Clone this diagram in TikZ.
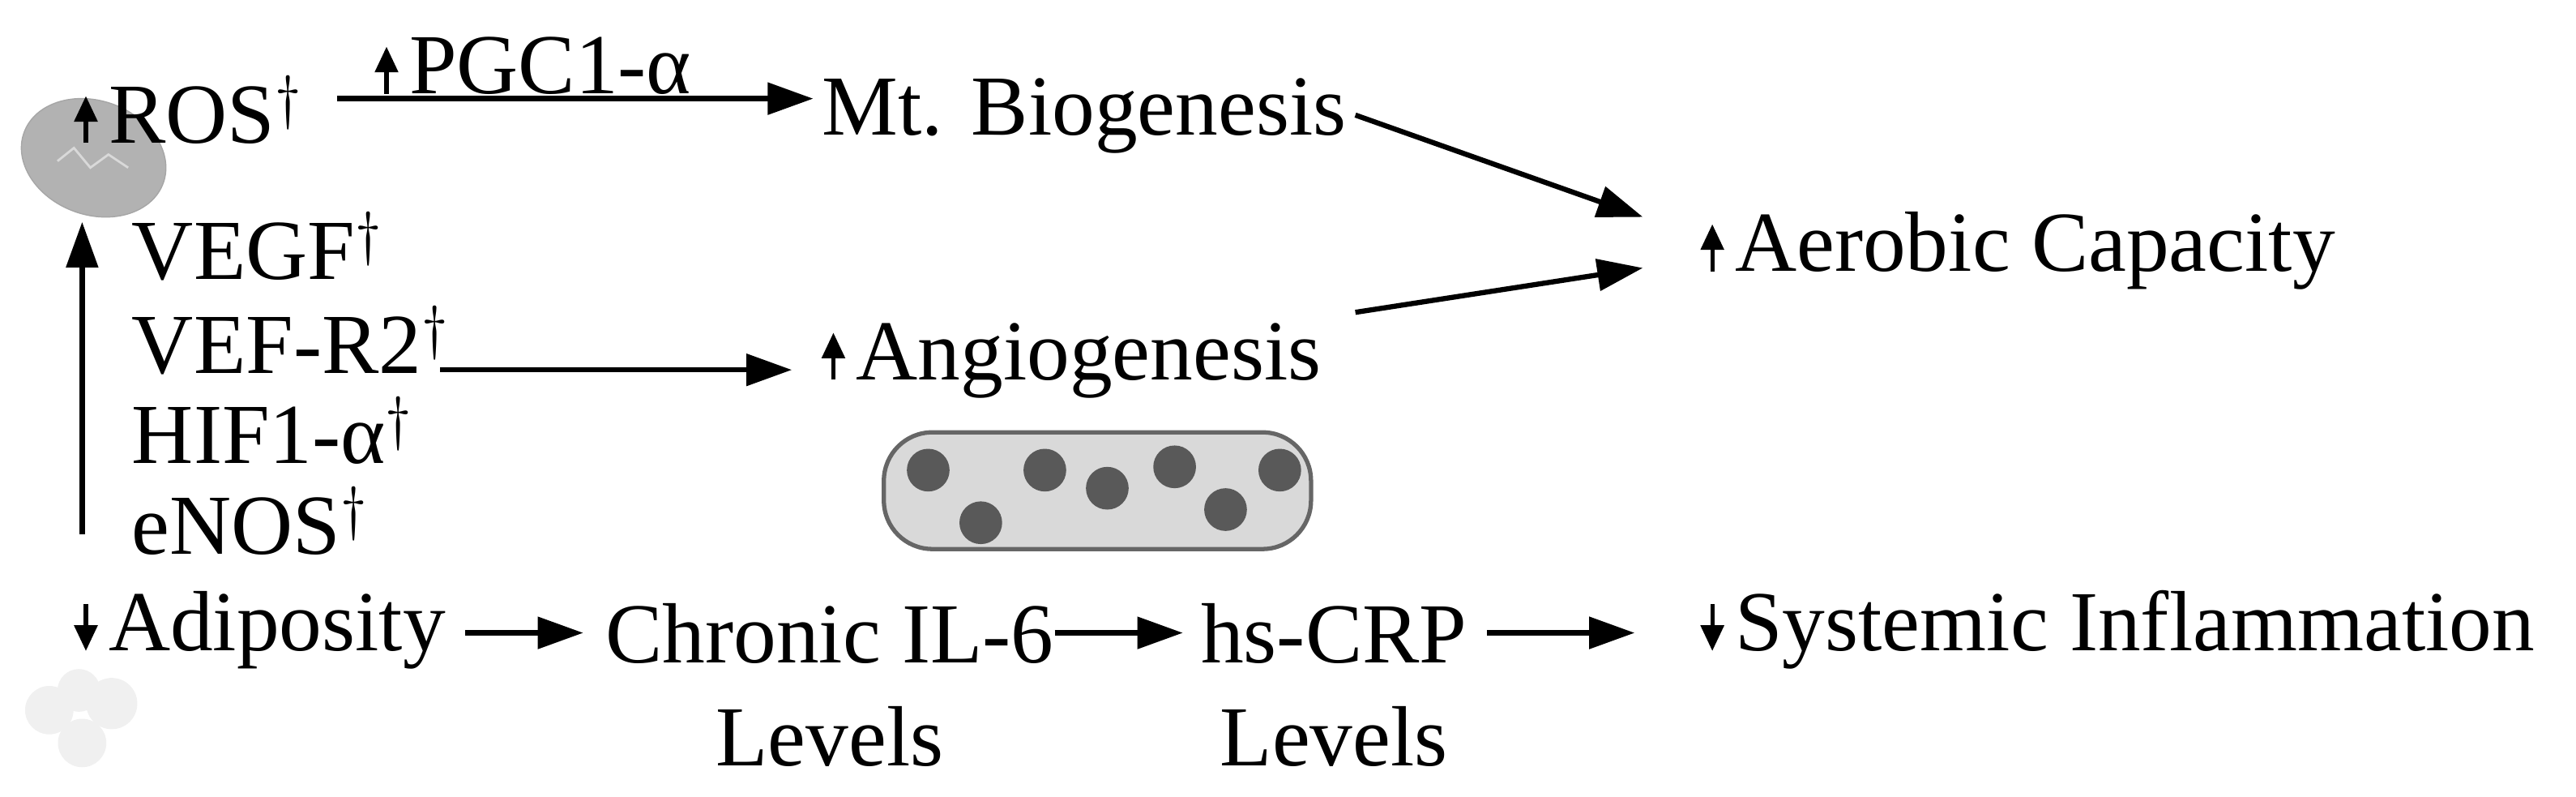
\documentclass[tikz,border=0pt]{standalone}
\usepackage{fontspec}
\setmainfont{Liberation Serif}
\usetikzlibrary{arrows.meta,shapes.geometric}
\newcommand{\uar}{\tikz[baseline=0pt,x=1cm,y=1cm]\draw[line width=1.5pt,-{Triangle[length=9pt,width=8pt]}] (0,0)--(0,0.58);\hspace{4pt}}
\newcommand{\dar}{\tikz[baseline=0pt,x=1cm,y=1cm]\draw[line width=1.5pt,-{Triangle[length=9pt,width=8pt]}] (0,0.58)--(0,0);\hspace{4pt}}
\begin{document}
\begin{tikzpicture}[x=0.02028cm,y=-0.02028cm,
  lbl/.style={inner sep=0pt,anchor=base west,font=\fontsize{30}{36}\selectfont},
  conn/.style={line width=1.8pt,-{Triangle[length=16pt,width=11pt]}}]
\useasboundingbox (0,0) rectangle (1568,484.7);
% icons
\node[draw=gray!70,fill=gray!60,ellipse,rotate=-20,minimum width=52pt,minimum height=40pt,inner sep=0pt] (mito) at (57,96) {};
\draw[white!70!gray,line width=0.8pt] (35,98) -- (45,90) -- (55,102) -- (66,94) -- (78,102);
\node[fill=gray!12,circle,minimum size=17pt,inner sep=0pt] (fat1) at (30,432) {};
\node[fill=gray!12,circle,minimum size=18pt,inner sep=0pt] (fat2) at (68,428) {};
\node[fill=gray!12,circle,minimum size=17pt,inner sep=0pt] (fat3) at (50,452) {};
\node[fill=gray!12,circle,minimum size=15pt,inner sep=0pt] (fat4) at (48,420) {};
\path[draw=gray!80!black,line width=1.5pt,fill=gray!30,rounded corners=17pt] (538,263) rectangle (798,334);
\foreach \i/\x/\y in {1/565/286,2/597/318,3/636/286,4/674/297,5/715/284,6/746/310,7/779/286}
  \node[circle,fill=gray!70!black,minimum size=15pt,inner sep=0pt] (d\i) at (\x,\y) {};
% texts
\node[lbl] (ros) at (45,87) {\uar ROS$^{\dagger}$};
\node[lbl] (pgc) at (228,57) {\uar PGC1-α};
\node[lbl] (mt) at (500,82) {Mt. Biogenesis};
\node[lbl] (aer) at (1035,165) {\uar Aerobic Capacity};
\node[lbl] (vegf) at (80,170) {VEGF$^{\dagger}$};
\node[lbl] (vef) at (80,227) {VEF-R2$^{\dagger}$};
\node[lbl] (hif) at (80,282) {HIF1-α$^{\dagger}$};
\node[lbl] (enos) at (80,337) {eNOS$^{\dagger}$};
\node[lbl] (ang) at (500,231) {\uar Angiogenesis};
\node[lbl] (adi) at (45,396) {\dar Adiposity};
\node[lbl,anchor=north,align=center] (il6) at (505,367) {Chronic IL-6\\Levels};
\node[lbl,anchor=north,align=center] (crp) at (812,367) {hs-CRP\\Levels};
\node[lbl] (sys) at (1035,396) {\dar Systemic Inflammation};
% connectors
\coordinate (vbot) at (50,325);
\coordinate (vtop) at (50,135);
\draw[conn] (vbot) -- (vtop);
\draw[conn] (205,60) coordinate (a1) -- (495,60) coordinate (a2);
\draw[conn] (825,70) coordinate (b1) -- (1000,132) coordinate (b2);
\draw[conn] (825,190) coordinate (c1) -- (1000,163) coordinate (c2);
\draw[conn] (268,225) coordinate (e1) -- (482,225) coordinate (e2);
\draw[conn] (283,385) coordinate (h1) -- (355,385) coordinate (h2);
\draw[conn] (642,385) coordinate (f1) -- (720,385) coordinate (f2);
\draw[conn] (905,385) coordinate (g1) -- (995,385) coordinate (g2);
\end{tikzpicture}
\end{document}
